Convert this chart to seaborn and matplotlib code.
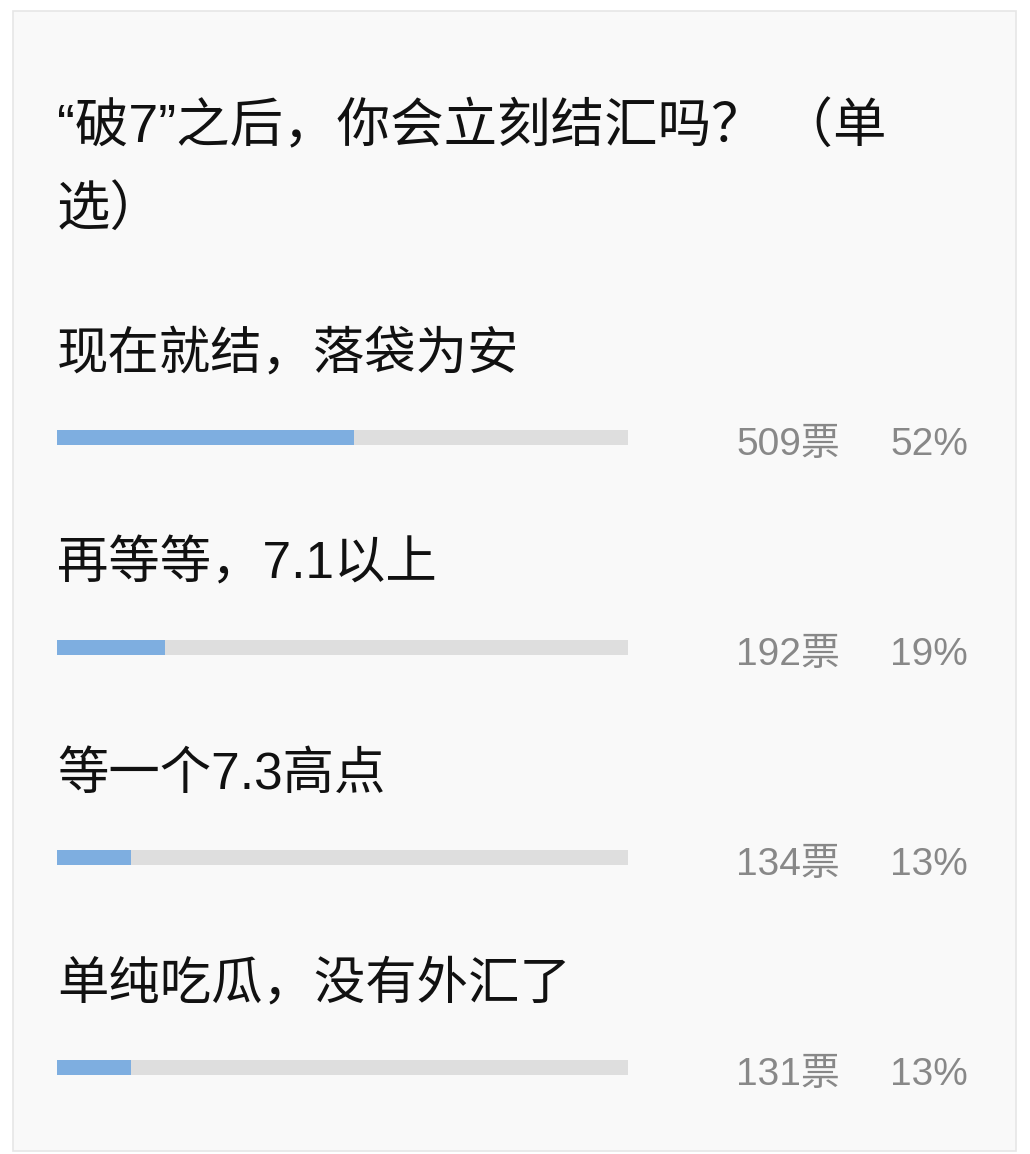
import matplotlib
matplotlib.use("Agg")
import matplotlib.pyplot as plt
import seaborn as sns
import pandas as pd
from matplotlib.patches import Rectangle

sns.set_theme(style="white")
plt.rcParams['font.family'] = ['Liberation Sans', 'Noto Sans CJK SC', 'DejaVu Sans']

title = "“破7”之后，你会立刻结汇吗？ （单\n选）"
options = ["现在就结，落袋为安", "再等等，7.1以上", "等一个7.3高点", "单纯吃瓜，没有外汇了"]
votes = [509, 192, 134, 131]
percents = [52, 19, 13, 13]
vote_labels = ["509票", "192票", "134票", "131票"]
pct_labels = ["52%", "19%", "13%", "13%"]

df = pd.DataFrame({"option": options, "pct": percents, "full": [100] * len(options)})

W, H = 1030, 1154
fig = plt.figure(figsize=(W / 100, H / 100), dpi=100)
fig.patch.set_facecolor("white")

# panel
fig.patches.append(Rectangle((13 / W, 1 - 1151 / H), (1016 - 13) / W, (1151 - 11) / H,
                             transform=fig.transFigure, facecolor="#f9f9f9",
                             edgecolor="#e6e6e6", linewidth=1.2, zorder=-5))

lines = title.split("\n")
fig.text(57 / W, 1 - 128 / H, lines[0], fontsize=38.5, color="#111111",
         ha="left", va="center")
fig.text(57 / W, 1 - 210 / H, lines[1], fontsize=38.5, color="#111111",
         ha="left", va="center")

# axes covering bar region: categories 0..3 at pixel y 437 + 210*i
step = 210
top_px = 437 - 0.5 * step
bot_px = 1067 + 0.35 * step
x0, x1 = 57, 628
ax = fig.add_axes([x0 / W, 1 - bot_px / H, (x1 - x0) / W, (bot_px - top_px) / H])
ax.set_facecolor("none")
ax.set_zorder(5)

bw = 15 / step
sns.barplot(data=df, y="option", x="full", orient="h", color="#dedede", width=bw,
            ax=ax, saturation=1, errorbar=None, linewidth=0)
sns.barplot(data=df, y="option", x="pct", orient="h", color="#7eaee0", width=bw,
            ax=ax, saturation=1, errorbar=None, linewidth=0)
ax.set_xlim(0, 100)
ax.set_ylim(3.35, -0.5)
ax.set_xlabel("")
ax.set_ylabel("")
ax.set_xticks([])
ax.set_yticks([])
for s in ax.spines.values():
    s.set_visible(False)

px_per_unit = (x1 - x0) / 100
for i, (opt, vl, pl) in enumerate(zip(options, vote_labels, pct_labels)):
    ax.text(0, i - 82 / step, opt, fontsize=37, color="#111111", ha="left",
            va="center", clip_on=False)
    ax.text((840 - x0) / px_per_unit, i + 8 / step, vl, fontsize=28, color="#888888",
            ha="right", va="center", clip_on=False)
    ax.text((968 - x0) / px_per_unit, i + 8 / step, pl, fontsize=28, color="#888888",
            ha="right", va="center", clip_on=False)

fig.savefig("out.png", dpi=100, facecolor="white")
